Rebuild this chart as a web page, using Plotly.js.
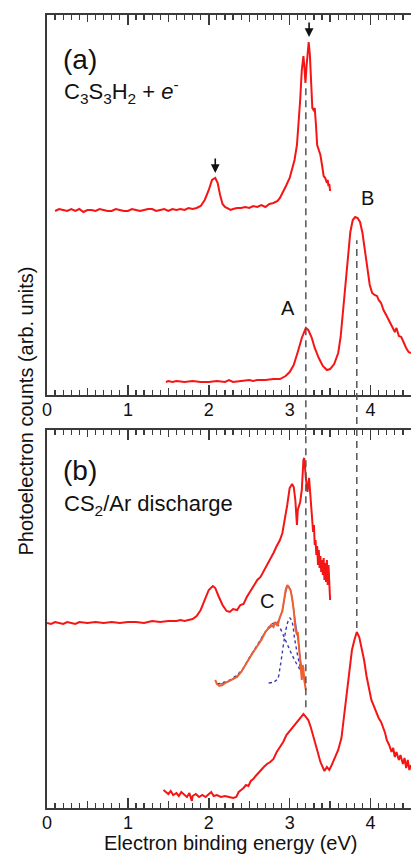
<!DOCTYPE html>
<html><head><meta charset="utf-8">
<script src="https://cdn.plot.ly/plotly-3.0.1.min.js"></script>
<style>html,body{margin:0;padding:0;background:#fff;} #chart{width:411px;height:854px;}</style>
</head><body><div id="chart"></div>
<script>
// ---------- data (arbitrary units) ----------
// panel (a) upper trace: C3S3H2 + e-
const a1X = [0.1,0.15,0.2,0.25,0.3,0.35,0.4,0.45,0.5,0.55,0.6,0.65,0.7,0.75,0.8,0.85,0.9,0.95,1.0,1.05,1.1,1.15,1.2,1.25,1.3,1.35,1.4,1.45,1.5,1.55,1.6,1.65,1.7,1.75,1.8,1.85,1.9,1.95,2.0,2.04,2.08,2.11,2.14,2.17,2.2,2.24,2.27,2.3,2.35,2.4,2.45,2.5,2.55,2.6,2.65,2.7,2.75,2.8,2.85,2.88,2.92,2.96,3.0,3.03,3.06,3.09,3.11,3.13,3.15,3.17,3.18,3.195,3.21,3.235,3.25,3.265,3.28,3.295,3.31,3.325,3.34,3.36,3.38,3.4,3.42,3.44,3.46,3.47,3.48,3.49,3.5];
const a1Y = [178,180,179,178,180,178,180,177,179,179,178,180,179,178,178,180,179,178,178,180,179,178,179,180,180,178,179,180,178,180,179,180,179,181,180,181,183,189,199,209,211,206,194,185,182,180,179,180,181,181,182,181,183,182,184,182,185,186,188,191,197,204,211,219,229,244,264,289,319,333,324,306,324,347,334,304,281,279,281,264,244,239,234,224,213,211,206,209,203,205,198];
// panel (a) lower trace with bands A and B
const a2X = [1.47,1.5,1.55,1.6,1.7,1.8,1.9,2.0,2.1,2.2,2.25,2.3,2.4,2.5,2.55,2.6,2.7,2.8,2.88,2.95,3.0,3.05,3.1,3.15,3.2,3.23,3.27,3.31,3.36,3.41,3.46,3.5,3.55,3.6,3.63,3.66,3.69,3.72,3.75,3.78,3.81,3.84,3.87,3.9,3.93,3.96,3.99,4.02,4.05,4.08,4.1,4.13,4.16,4.2,4.24,4.27,4.3,4.32,4.35,4.38,4.41,4.44,4.47,4.5];
const a2Y = [7,8,7,8,7,8,7,7,8,7,9,7,8,9,8,9,9,10,10,13,17,24,37,51,61,59,52,41,31,23,19,20,25,36,52,79,104,134,157,169,172,171,167,156,139,121,104,96,94,93,89,86,79,73,67,63,57,61,53,52,46,41,37,36];
// panel (b) upper trace: CS2/Ar discharge
const b1X = [0.0,0.05,0.1,0.15,0.2,0.25,0.3,0.35,0.4,0.5,0.6,0.7,0.8,0.9,1.0,1.1,1.2,1.3,1.4,1.5,1.6,1.65,1.7,1.75,1.8,1.85,1.9,1.95,2.0,2.05,2.08,2.12,2.17,2.22,2.26,2.3,2.35,2.39,2.43,2.47,2.51,2.55,2.6,2.64,2.68,2.72,2.76,2.8,2.84,2.88,2.91,2.94,2.97,3.0,3.03,3.05,3.07,3.09,3.1,3.13,3.15,3.17,3.18,3.2,3.22,3.24,3.26,3.28,3.29,3.3,3.31,3.32,3.33,3.34,3.35,3.36,3.37,3.38,3.39,3.4,3.41,3.42,3.43,3.44,3.45,3.46,3.47,3.48,3.49,3.5];
const b1Y = [185,184,186,185,184,186,185,184,186,185,186,185,186,185,186,186,185,187,186,187,187,188,187,188,189,192,198,208,218,222,220,212,203,197,196,199,198,203,204,211,216,222,228,231,237,242,248,255,262,268,275,288,303,320,324,321,308,283,298,306,318,348,350,330,316,330,308,278,276,283,263,268,253,262,243,258,240,252,236,248,233,250,228,245,226,248,223,243,218,208];
// panel (b) band C: measured trace, total fit and two components
const b2X = [2.08,2.1,2.13,2.17,2.2,2.25,2.3,2.35,2.4,2.45,2.5,2.55,2.6,2.65,2.7,2.74,2.77,2.8,2.82,2.85,2.88,2.91,2.93,2.95,2.97,2.99,3.01,3.03,3.05,3.07,3.09,3.1,3.12,3.13,3.14,3.15,3.16,3.17,3.18,3.19,3.2];
const b2Y = [128,124,122,123,125,127,129,131,136,143,150,156,162,168,176,180,183,181,186,182,191,197,208,218,223,221,218,210,198,180,173,176,158,148,133,128,143,140,128,123,118];
const fitX = [2.1,2.2,2.3,2.4,2.5,2.6,2.7,2.8,2.85,2.9,2.95,2.98,3.01,3.05,3.1,3.15,3.2];
const fitY = [124,125,129,136,150,162,176,183,186,195,215,222,218,198,170,140,125];
const comp1X = [2.1,2.2,2.3,2.4,2.5,2.6,2.7,2.78,2.83,2.88,2.93,2.98,3.03,3.08,3.13,3.18,3.2];
const comp1Y = [124,126,130,137,150,163,176,184,185,180,171,162,153,145,138,131,128];
const comp2X = [2.74,2.8,2.85,2.88,2.91,2.94,2.97,3.0,3.03,3.06,3.1,3.14,3.19];
const comp2Y = [125,126,129,140,156,172,184,190,186,170,152,138,126];
// panel (b) lower trace
const b3X = [1.44,1.47,1.5,1.53,1.56,1.6,1.63,1.66,1.7,1.73,1.76,1.79,1.8,1.84,1.88,1.92,1.96,2.0,2.03,2.06,2.1,2.15,2.2,2.25,2.3,2.34,2.37,2.4,2.43,2.46,2.49,2.52,2.55,2.58,2.61,2.64,2.68,2.72,2.76,2.8,2.84,2.88,2.92,2.96,3.0,3.04,3.08,3.12,3.15,3.17,3.2,3.23,3.26,3.29,3.32,3.35,3.38,3.41,3.43,3.46,3.49,3.52,3.56,3.6,3.64,3.68,3.71,3.74,3.77,3.8,3.83,3.86,3.89,3.92,3.95,3.98,4.01,4.04,4.07,4.1,4.13,4.16,4.18,4.2,4.23,4.26,4.28,4.3,4.32,4.35,4.37,4.4,4.42,4.44,4.46,4.48,4.5];
const b3Y = [18,16,14,17,13,15,12,16,13,11,15,7,12,14,11,13,11,14,16,12,13,11,12,11,10,11,16,18,20,23,22,27,29,32,35,37,41,44,46,49,56,61,66,73,77,82,86,89,92,94,91,88,81,73,63,55,46,40,37,41,38,43,51,58,70,96,116,140,158,168,176,171,160,148,132,118,108,102,96,90,86,80,75,68,63,56,60,51,56,48,53,44,50,40,48,38,43];
// tick labels
const majorTicks = [0,1,2,3,4];
const majorLabels = ['0','1','2','3','4'];
const halfTicks = [0.5,1.5,2.5,3.5];

// ---------- styling ----------
const FONT = 'Liberation Sans, Arial, sans-serif';
const RED = '#f51515';
const AX = '#3a3a3a';

const traces = [
  {x:a1X, y:a1Y, xaxis:'x', yaxis:'y', mode:'lines', line:{color:RED, width:2}},
  {x:a2X, y:a2Y, xaxis:'x', yaxis:'y', mode:'lines', line:{color:RED, width:2}},
  {x:b1X, y:b1Y, xaxis:'x2', yaxis:'y2', mode:'lines', line:{color:RED, width:2}},
  {x:fitX, y:fitY, xaxis:'x2', yaxis:'y2', mode:'lines', line:{color:'#5b6ee6', width:1.3, shape:'spline'}},
  {x:comp1X, y:comp1Y, xaxis:'x2', yaxis:'y2', mode:'lines', line:{color:'#3a3ab4', width:1.4, dash:'dot', shape:'spline'}},
  {x:comp2X, y:comp2Y, xaxis:'x2', yaxis:'y2', mode:'lines', line:{color:'#3a3ab4', width:1.4, dash:'dot', shape:'spline'}},
  {x:b2X, y:b2Y, xaxis:'x2', yaxis:'y2', mode:'lines', line:{color:'#f0602e', width:2}},
  {x:b3X, y:b3Y, xaxis:'x2', yaxis:'y2', mode:'lines', line:{color:RED, width:2}},
  {x:[null], y:[null], xaxis:'x3', yaxis:'y', mode:'lines'},
  {x:[null], y:[null], xaxis:'x4', yaxis:'y2', mode:'lines'}
];

function mainX(anchor) {
  return {anchor:anchor, range:[0,4.5], tickvals:majorTicks, ticktext:majorLabels,
    ticks:'inside', ticklen:10, tickwidth:1.5, tickcolor:AX,
    showline:true, linecolor:AX, linewidth:2, mirror:'allticks',
    minor:{dtick:0.1, tick0:0, ticks:'inside', ticklen:5, tickwidth:1.2, tickcolor:AX},
    showgrid:false, zeroline:false, tickfont:{family:FONT, size:18, color:'#111'},
    ticklabelstandoff:-3, fixedrange:true};
}
function halfX(base, anchor) {
  return {overlaying:base, anchor:anchor, range:[0,4.5], tickvals:halfTicks, showticklabels:false,
    ticks:'inside', ticklen:7, tickwidth:1.3, tickcolor:AX, mirror:'allticks',
    showline:false, showgrid:false, zeroline:false, fixedrange:true};
}
function yAx(domain, range) {
  return {domain:domain, range:range, showline:true, linecolor:AX, linewidth:2,
    ticks:'', showticklabels:false, showgrid:false, zeroline:false, fixedrange:true};
}

const dashLine = {color:'#555', width:1.5, dash:'7px,5px'};
function label(x, y, text, size, extra) {
  return Object.assign({xref:'paper', yref:'paper', x:x, y:y, text:text, showarrow:false,
    xanchor:'center', yanchor:'middle', font:{size:size, family:FONT, color:'#111'}}, extra || {});
}
const layout = {
  width:411, height:854, showlegend:false,
  margin:{l:47, r:0, t:15, b:46},
  paper_bgcolor:'#fff', plot_bgcolor:'rgba(0,0,0,0)',
  font:{family:FONT, color:'#111'},
  xaxis:mainX('y'), xaxis2:mainX('y2'),
  xaxis3:halfX('x','y'), xaxis4:halfX('x2','y2'),
  yaxis:yAx([0.5208,1],[-6,374]), yaxis2:yAx([0,0.4767],[0,378]),
  shapes:[
    {type:'line', xref:'x', yref:'paper', x0:3.2, x1:3.2, y0:0.127, y1:0.908, line:dashLine},
    {type:'line', xref:'x', yref:'paper', x0:3.83, x1:3.83, y0:0.227, y1:0.716, line:dashLine}
  ],
  annotations:[
    label(0.0907, 0.944, '(a)', 28),
    label(0.041, 0.903, 'C<sub>3</sub>S<sub>3</sub>H<sub>2</sub> + <i>e</i><sup>-</sup>', 22, {xanchor:'left'}),
    label(0.0907, 0.426, '(b)', 28),
    label(0.041, 0.382, 'CS<sub>2</sub>/Ar discharge', 22, {xanchor:'left'}),
    label(2.98, 81, 'A', 20, {xref:'x', yref:'y'}),
    label(3.96, 191, 'B', 20, {xref:'x', yref:'y'}),
    label(2.72, 207, 'C', 20, {xref:'x2', yref:'y2'}),
    {xref:'x', yref:'y', x:2.08, y:216, text:'', showarrow:true, ax:0, ay:-16, arrowhead:2, arrowsize:1.1, arrowwidth:1.6, arrowcolor:'#111'},
    {xref:'x', yref:'y', x:3.24, y:352, text:'', showarrow:true, ax:0, ay:-16, arrowhead:2, arrowsize:1.1, arrowwidth:1.6, arrowcolor:'#111'},
    label(-0.0604, 0.5, 'Photoelectron counts (arb. units)', 20, {textangle:-90}),
    label(0.503, -0.0441, 'Electron binding energy (eV)', 20)
  ]
};

Plotly.newPlot('chart', traces, layout, {displayModeBar:false, staticPlot:true});
</script></body></html>
